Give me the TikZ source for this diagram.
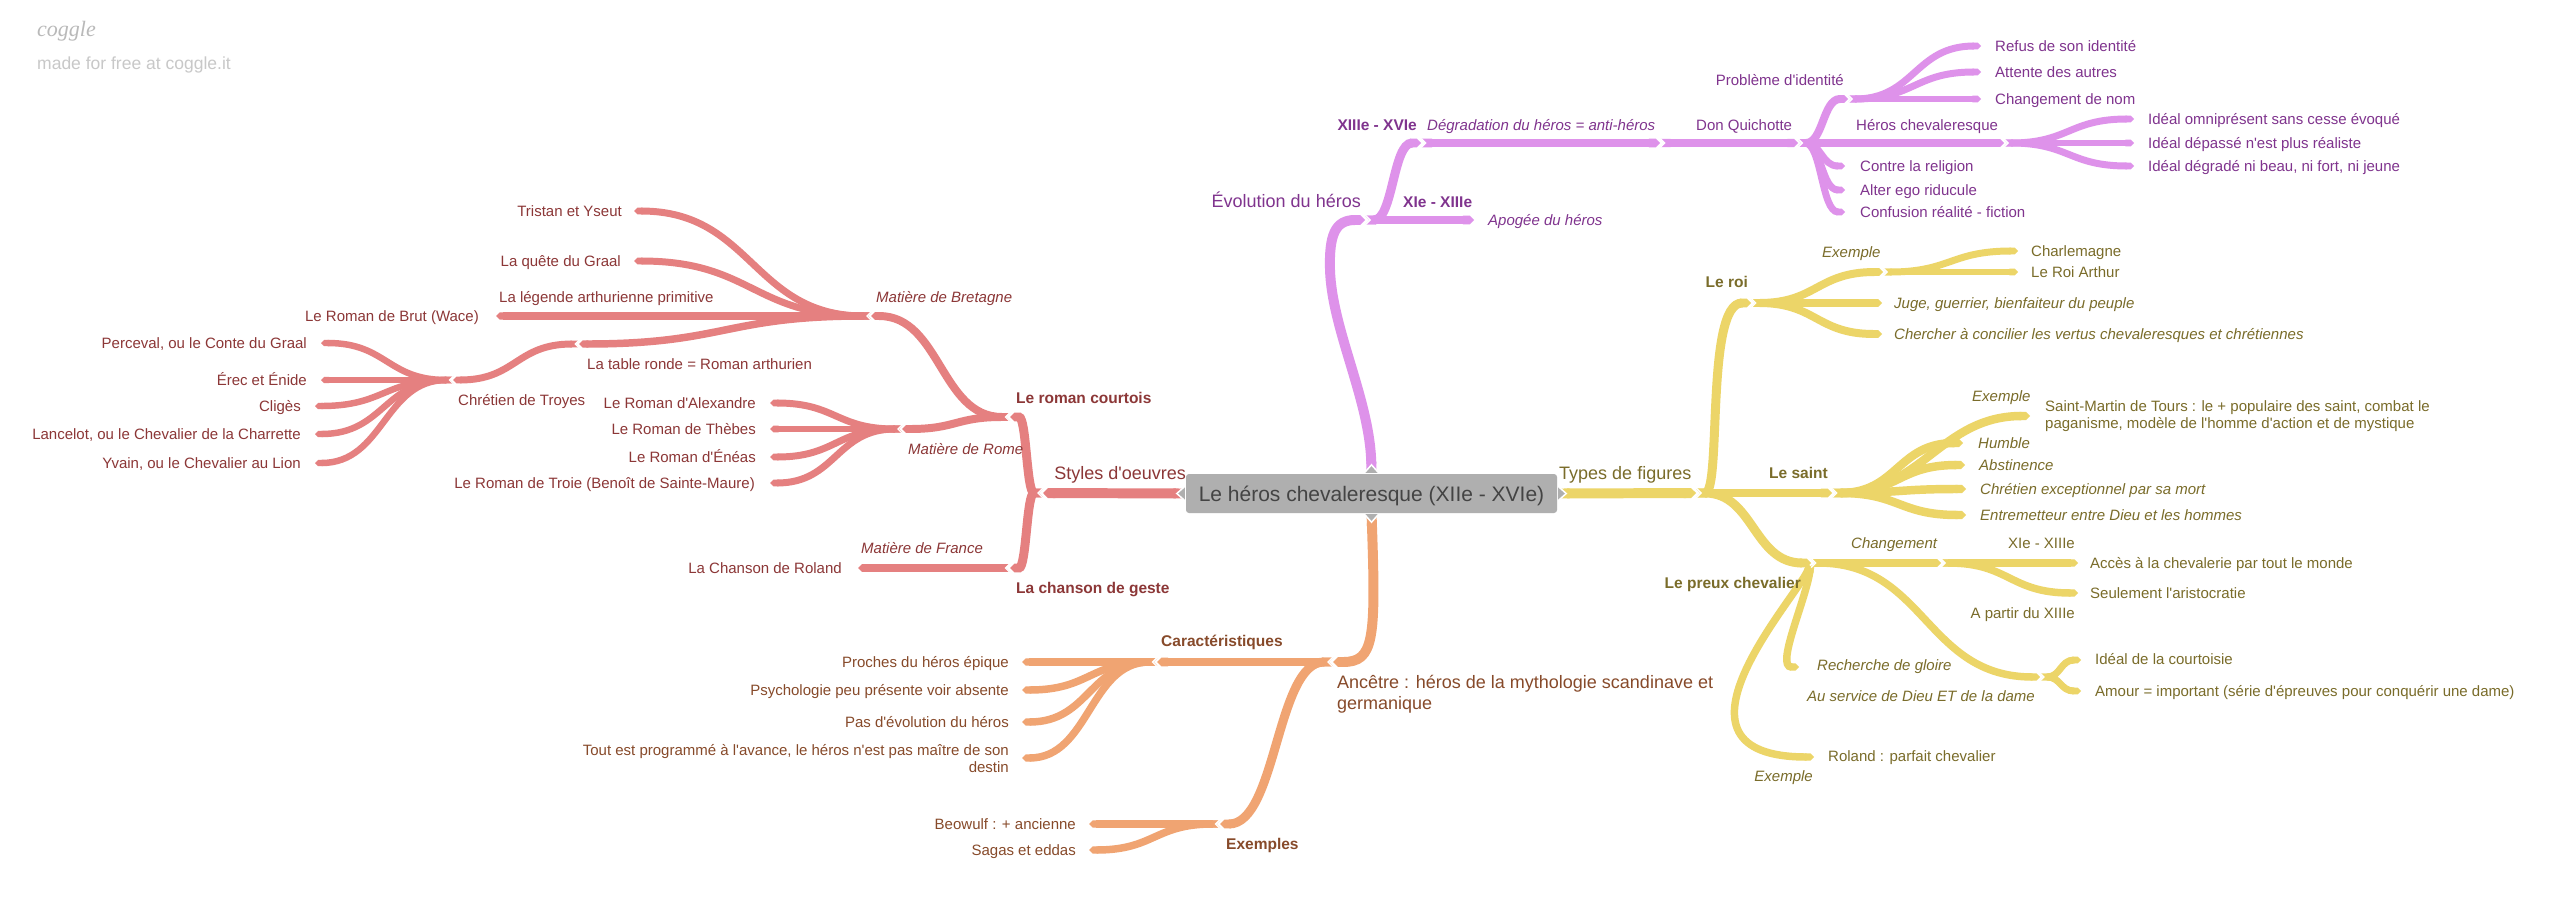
\documentclass[tikz,border=0pt]{standalone}
\usepackage{fontspec}
\setmainfont{Liberation Sans}[Ligatures=TeXOff]
\newfontfamily\logofont{Liberation Serif}
\usetikzlibrary{arrows.meta,calc,backgrounds}
\definecolor{redl}{RGB}{229,128,128}
\definecolor{redt}{RGB}{140,55,55}
\definecolor{purl}{RGB}{222,146,234}
\definecolor{purt}{RGB}{128,52,142}
\definecolor{yell}{RGB}{236,213,104}
\definecolor{yelt}{RGB}{122,108,42}
\definecolor{oral}{RGB}{240,164,114}
\definecolor{orat}{RGB}{135,74,42}
\definecolor{rootf}{RGB}{175,175,175}
\definecolor{roott}{RGB}{68,68,68}
\definecolor{logog}{RGB}{185,185,185}
\definecolor{madeg}{RGB}{200,200,200}
\tikzset{
  scurve/.style={to path={let \p1=(\tikztostart), \p2=(\tikztotarget) in
     .. controls ({\x1+#1*(\x2-\x1)},\y1) and ({\x2-#1*(\x2-\x1)},\y2) .. (\tikztotarget)}},
  scurve/.default=0.5,
  brn/.style={line width=#1, {Triangle Cap[reversed]}-{Triangle Cap}},
  lt/.style={inner sep=0pt, text height=10.8bp, text depth=0pt, font=\fontsize{15bp}{18bp}\selectfont},
  itt/.style={lt, font=\fontsize{15bp}{18bp}\selectfont\itshape},
  bft/.style={inner sep=0pt, text height=11.2bp, text depth=0pt, font=\fontsize{15.5bp}{18bp}\selectfont\bfseries},
  big/.style={inner sep=0pt, text height=13bp, text depth=0pt, font=\fontsize{18bp}{21bp}\selectfont},
  ml/.style={inner sep=0pt, font=\fontsize{15bp}{17bp}\selectfont},
  mlbig/.style={inner sep=0pt, font=\fontsize{18bp}{21bp}\selectfont},
  rootbox/.style={rectangle, fill=rootf, rounded corners=3bp, minimum width=371bp, minimum height=39bp,
     inner sep=0pt, text=roott, text height=15.1bp, text depth=0pt, font=\fontsize{21bp}{25bp}\selectfont},
  notchtri/.style={fill=rootf, draw=white, line width=1.5bp, line join=miter},
  chevline/.style={draw=white, line width=1.4bp, line join=miter}
}
% white gap between a parent's pointed end and its children's notches
\newcommand\jchev[3]{\draw[chevline] ($(#1)+(0,{-#3/2})$) -- ($(#1)+({#2*#3/2},0)$) -- ($(#1)+(0,{#3/2})$);}
\begin{document}
\begin{tikzpicture}[x=1bp,y=-1bp]
\useasboundingbox (0,0) rectangle (2560,902);

% header
\node[anchor=west, inner sep=0pt, text=logog, font=\logofont\fontsize{22bp}{24bp}\selectfont\itshape] (logo) at (37,31) {coggle};
\node[anchor=west, inner sep=0pt, text=madeg, font=\fontsize{17.5bp}{20bp}\selectfont] (made) at (37,65) {made for free at coggle.it};

% root
\node[rootbox] (root) at (1371.5,493.5) {Le héros chevaleresque (XIIe - XVIe)};

% ---------- coordinates ----------
% red
\coordinate (Js) at (1043,493);
\coordinate (Jrc) at (1010,417);
\coordinate (Jcg) at (1010,568);
\coordinate (Jmb) at (871,316);
\coordinate (Jmr) at (902,429);
\coordinate (tTri) at (634,211);
\coordinate (tQue) at (634,261);
\coordinate (tBrut) at (496,316);
\coordinate (Jtr) at (579,344);
\coordinate (Jct) at (453,380);
\coordinate (tPer) at (321,343);
\coordinate (tEre) at (321,380);
\coordinate (tCli) at (315,406);
\coordinate (tLan) at (315,434);
\coordinate (tYva) at (315,463);
\coordinate (tAle) at (770,403);
\coordinate (tThe) at (770,429);
\coordinate (tEne) at (770,457);
\coordinate (tTro) at (770,483);
\coordinate (tRol) at (858,568);
% purple
\coordinate (Jev) at (1365,220);
\coordinate (tApo) at (1474,220);
\coordinate (Jxiii) at (1421,143);
\coordinate (Jdeg) at (1660,143);
\coordinate (Jdq) at (1798,143);
\coordinate (Jpi) at (1848,99);
\coordinate (tRef) at (1981,46);
\coordinate (tAtt) at (1981,72);
\coordinate (tCha) at (1981,99);
\coordinate (Jhc) at (2004,143);
\coordinate (tOmn) at (2134,119);
\coordinate (tDep) at (2134,143);
\coordinate (tDgr) at (2134,166);
\coordinate (tCon) at (1845,166);
\coordinate (tAlt) at (1845,190);
\coordinate (tCnf) at (1845,212);
% yellow
\coordinate (Jtf) at (1696,493);
\coordinate (Jroi) at (1751,303);
\coordinate (Jex1) at (1883,272);
\coordinate (tChm) at (2018,251);
\coordinate (tArt) at (2018,272);
\coordinate (tJug) at (1882,303);
\coordinate (tChe) at (1882,334);
\coordinate (Jsai) at (1832,493);
\coordinate (tSM) at (2030,416);
\coordinate (tHum) at (1963,443);
\coordinate (tAbs) at (1965,465);
\coordinate (tChr) at (1966,489);
\coordinate (tEnt) at (1966,515);
\coordinate (Jpc) at (1811,563);
\coordinate (Jch) at (1941,563);
\coordinate (tAcc) at (2078,563);
\coordinate (tSeu) at (2078,593);
\coordinate (tRec) at (1799,667);
\coordinate (Jsd) at (2040,677);
\coordinate (tIde) at (2081,660);
\coordinate (tAmo) at (2081,691);
\coordinate (tRolE) at (1814,757);
% orange
\coordinate (Janc) at (1333,662);
\coordinate (Jcar) at (1157,662);
\coordinate (tPro) at (1022,662);
\coordinate (tPsy) at (1022,690);
\coordinate (tPas) at (1022,722);
\coordinate (tTou) at (1022,758);
\coordinate (Jexs) at (1220,824);
\coordinate (tBeo) at (1089,824);
\coordinate (tSag) at (1089,850);

% ---------- branches ----------
\begin{scope}[on background layer]
\fill[white] (0,0) rectangle (2560,902);
% red
\begin{scope}[draw=redl]
\draw[brn=10] (root.west) -- (Js);
\draw[brn=9] (Js) to[scurve] (Jrc);
\draw[brn=9] (Js) to[scurve] (Jcg);
\draw[brn=8] (Jrc) to[scurve] (Jmb);
\draw[brn=8] (Jrc) to[scurve] (Jmr);
\draw[brn=7] (Jmb) to[scurve] (tTri);
\draw[brn=7] (Jmb) to[scurve] (tQue);
\draw[brn=7.5] (Jmb) -- (tBrut);
\draw[brn=7.5] (Jmb) to[scurve] (Jtr);
\draw[brn=7] (Jtr) to[scurve] (Jct);
\draw[brn=6.5] (Jct) to[scurve] (tPer);
\draw[brn=6.5] (Jct) -- (tEre);
\draw[brn=6.5] (Jct) to[scurve] (tCli);
\draw[brn=6.5] (Jct) to[scurve] (tLan);
\draw[brn=6.5] (Jct) to[scurve] (tYva);
\draw[brn=7] (Jmr) to[scurve] (tAle);
\draw[brn=7] (Jmr) -- (tThe);
\draw[brn=7] (Jmr) to[scurve] (tEne);
\draw[brn=7] (Jmr) to[scurve] (tTro);
\draw[brn=8] (Jcg) -- (tRol);
\end{scope}
% purple
\begin{scope}[draw=purl]
\draw[brn=10] (root.north) .. controls (1370,400) and (1332,330) .. (1330,270)
   .. controls (1329,235) and (1335,220) .. (Jev);
\draw[brn=9] (Jev) -- (tApo);
\draw[brn=9] (Jev) to[scurve] (Jxiii);
\draw[brn=9] (Jxiii) -- (Jdeg);
\draw[brn=8.5] (Jdeg) -- (Jdq);
\draw[brn=8] (Jdq) to[scurve] (Jpi);
\draw[brn=7] (Jpi) to[scurve] (tRef);
\draw[brn=7] (Jpi) to[scurve] (tAtt);
\draw[brn=7] (Jpi) -- (tCha);
\draw[brn=8] (Jdq) -- (Jhc);
\draw[brn=7] (Jhc) to[scurve] (tOmn);
\draw[brn=7] (Jhc) -- (tDep);
\draw[brn=7] (Jhc) to[scurve] (tDgr);
\draw[brn=7] (Jdq) to[scurve] (tCon);
\draw[brn=7] (Jdq) to[scurve] (tAlt);
\draw[brn=7] (Jdq) to[scurve] (tCnf);
\end{scope}
% yellow
\begin{scope}[draw=yell]
\draw[brn=10] (root.east) -- (Jtf);
\draw[brn=9] (Jtf) .. controls (1722,493) and (1705,303) .. (Jroi);
\draw[brn=8] (Jroi) to[scurve] (Jex1);
\draw[brn=7] (Jex1) to[scurve] (tChm);
\draw[brn=7] (Jex1) -- (tArt);
\draw[brn=8] (Jroi) -- (tJug);
\draw[brn=8] (Jroi) to[scurve] (tChe);
\draw[brn=9] (Jtf) -- (Jsai);
\draw[brn=8.5] (Jsai) to[scurve=0.45] (tSM);
\draw[brn=8.5] (Jsai) to[scurve] (tHum);
\draw[brn=8.5] (Jsai) to[scurve] (tAbs);
\draw[brn=8.5] (Jsai) to[scurve] (tChr);
\draw[brn=8.5] (Jsai) to[scurve] (tEnt);
\draw[brn=9] (Jtf) to[scurve] (Jpc);
\draw[brn=8] (Jpc) -- (Jch);
\draw[brn=7.5] (Jch) -- (tAcc);
\draw[brn=7.5] (Jch) to[scurve] (tSeu);
\draw[brn=7.5] (Jpc) .. controls (1806,600) and (1775,667) .. (tRec);
\draw[brn=7.5] (Jpc) to[scurve] (Jsd);
\draw[brn=7] (Jsd) to[scurve] (tIde);
\draw[brn=7] (Jsd) to[scurve] (tAmo);
\draw[brn=7.5] (Jpc) .. controls (1795,600) and (1650,757) .. (tRolE);
\end{scope}
% orange
\begin{scope}[draw=oral]
\draw[brn=10] (root.south) .. controls (1376,640) and (1374,662) .. (Janc);
\draw[brn=9] (Janc) -- (Jcar);
\draw[brn=7.5] (Jcar) -- (tPro);
\draw[brn=7.5] (Jcar) to[scurve] (tPsy);
\draw[brn=7.5] (Jcar) to[scurve] (tPas);
\draw[brn=7.5] (Jcar) to[scurve] (tTou);
\draw[brn=9] (Janc) to[scurve] (Jexs);
\draw[brn=7.5] (Jexs) -- (tBeo);
\draw[brn=7.5] (Jexs) to[scurve] (tSag);
\end{scope}
% junction gaps
\jchev{Js}{-1}{10} \jchev{Jrc}{-1}{9} \jchev{Jcg}{-1}{9} \jchev{Jmb}{-1}{8}
\jchev{Jmr}{-1}{8} \jchev{Jtr}{-1}{7.5} \jchev{Jct}{-1}{7}
\jchev{Jev}{1}{10} \jchev{Jxiii}{1}{9} \jchev{Jdeg}{1}{9} \jchev{Jdq}{1}{8.5}
\jchev{Jpi}{1}{8} \jchev{Jhc}{1}{8}
\jchev{Jtf}{1}{10} \jchev{Jroi}{1}{9} \jchev{Jex1}{1}{8} \jchev{Jsai}{1}{9}
\jchev{Jpc}{1}{9} \jchev{Jch}{1}{8} \jchev{Jsd}{1}{7.5}
\jchev{Janc}{-1}{10} \jchev{Jcar}{-1}{9} \jchev{Jexs}{-1}{9}
% root notches
\filldraw[notchtri] ($(root.north)+(-8,0)$) -- ($(root.north)+(0,-9)$) -- ($(root.north)+(8,0)$) -- cycle;
\filldraw[notchtri] ($(root.south)+(-8,0)$) -- ($(root.south)+(0,9)$) -- ($(root.south)+(8,0)$) -- cycle;
\filldraw[notchtri] ($(root.west)+(0,-8)$) -- ($(root.west)+(-9,0)$) -- ($(root.west)+(0,8)$) -- cycle;
\filldraw[notchtri] ($(root.east)+(0,-8)$) -- ($(root.east)+(9,0)$) -- ($(root.east)+(0,8)$) -- cycle;
\end{scope}

% ---------- labels ----------
\begin{scope}[every node/.append style={text=redt}]
\node[big, anchor=east] (nSty) at (1186,473) {Styles d'oeuvres};
\node[bft, anchor=west] (nRC) at (1016,398) {Le roman courtois};
\node[bft, anchor=west] (nCG) at (1016,588) {La chanson de geste};
\node[itt, anchor=west] (nMB) at (876,297) {Matière de Bretagne};
\node[itt, anchor=west] (nMR) at (908,449) {Matière de Rome};
\node[lt, anchor=east] (nTri) at (622,211) {Tristan et Yseut};
\node[lt, anchor=east] (nQue) at (621,261) {La quête du Graal};
\node[lt, anchor=west] (nLeg) at (499,297) {La légende arthurienne primitive};
\node[lt, anchor=east] (nBrut) at (479,316) {Le Roman de Brut (Wace)};
\node[lt, anchor=west] (nTR) at (587,364) {La table ronde = Roman arthurien};
\node[lt, anchor=west] (nCT) at (458,400) {Chrétien de Troyes};
\node[lt, anchor=east] (nPer) at (307,343) {Perceval, ou le Conte du Graal};
\node[lt, anchor=east] (nEre) at (307,380) {Érec et Énide};
\node[lt, anchor=east] (nCli) at (301,406) {Cligès};
\node[lt, anchor=east] (nLan) at (301,434) {Lancelot, ou le Chevalier de la Charrette};
\node[lt, anchor=east] (nYva) at (301,463) {Yvain, ou le Chevalier au Lion};
\node[lt, anchor=east] (nAle) at (756,403) {Le Roman d'Alexandre};
\node[lt, anchor=east] (nThe) at (756,429) {Le Roman de Thèbes};
\node[lt, anchor=east] (nEne) at (756,457) {Le Roman d'Énéas};
\node[lt, anchor=east] (nTro) at (755,483) {Le Roman de Troie (Benoît de Sainte-Maure)};
\node[itt, anchor=west] (nMF) at (861,548) {Matière de France};
\node[lt, anchor=east] (nRol) at (842,568) {La Chanson de Roland};
\end{scope}

\begin{scope}[every node/.append style={text=purt}]
\node[big, anchor=east] (nEv) at (1361,201) {Évolution du héros};
\node[bft, anchor=west] (nX1) at (1403,202) {XIe - XIIIe};
\node[itt, anchor=west] (nApo) at (1488,220) {Apogée du héros};
\node[bft, anchor=east] (nX2) at (1417,125) {XIIIe - XVIe};
\node[itt, anchor=west] (nDeg) at (1427,125) {Dégradation du héros = anti-héros};
\node[lt, anchor=west] (nDQ) at (1696,125) {Don Quichotte};
\node[lt, anchor=east] (nPI) at (1844,80) {Problème d'identité};
\node[lt, anchor=west] (nRef) at (1995,46) {Refus de son identité};
\node[lt, anchor=west] (nAtt) at (1995,72) {Attente des autres};
\node[lt, anchor=west] (nCha) at (1995,99) {Changement de nom};
\node[lt, anchor=west] (nHC) at (1856,125) {Héros chevaleresque};
\node[lt, anchor=west] (nOmn) at (2148,119) {Idéal omniprésent sans cesse évoqué};
\node[lt, anchor=west] (nDep) at (2148,143) {Idéal dépassé n'est plus réaliste};
\node[lt, anchor=west] (nDgr) at (2148,166) {Idéal dégradé ni beau, ni fort, ni jeune};
\node[lt, anchor=west] (nCon) at (1860,166) {Contre la religion};
\node[lt, anchor=west] (nAlt) at (1860,190) {Alter ego riducule};
\node[lt, anchor=west] (nCnf) at (1860,212) {Confusion réalité - fiction};
\end{scope}

\begin{scope}[every node/.append style={text=yelt}]
\node[big, anchor=west] (nTF) at (1559,473) {Types de figures};
\node[bft, anchor=east] (nRoi) at (1748,282) {Le roi};
\node[itt, anchor=west] (nEx1) at (1822,252) {Exemple};
\node[lt, anchor=west] (nChm) at (2031,251) {Charlemagne};
\node[lt, anchor=west] (nArt) at (2031,272) {Le Roi Arthur};
\node[itt, anchor=west] (nJug) at (1894,303) {Juge, guerrier, bienfaiteur du peuple};
\node[itt, anchor=west] (nChe) at (1894,334) {Chercher à concilier les vertus chevaleresques et chrétiennes};
\node[bft, anchor=west] (nSai) at (1769,473) {Le saint};
\node[itt, anchor=west] (nEx2) at (1972,396) {Exemple};
\node[ml, align=left, anchor=west] (nSM) at (2045,416) {Saint-Martin de Tours : le + populaire des saint, combat le\\paganisme, modèle de l'homme d'action et de mystique};
\node[itt, anchor=west] (nHum) at (1978,443) {Humble};
\node[itt, anchor=west] (nAbs) at (1979,465) {Abstinence};
\node[itt, anchor=west] (nChr) at (1980,489) {Chrétien exceptionnel par sa mort};
\node[itt, anchor=west] (nEnt) at (1980,515) {Entremetteur entre Dieu et les hommes};
\node[bft, anchor=east] (nPC) at (1801,583) {Le preux chevalier};
\node[itt, anchor=west] (nChg) at (1851,543) {Changement};
\node[lt, anchor=east] (nX3) at (2075,543) {XIe - XIIIe};
\node[lt, anchor=west] (nAcc) at (2090,563) {Accès à la chevalerie par tout le monde};
\node[lt, anchor=east] (nAP) at (2075,613) {A partir du XIIIe};
\node[lt, anchor=west] (nSeu) at (2090,593) {Seulement l'aristocratie};
\node[itt, anchor=west] (nRec) at (1817,665) {Recherche de gloire};
\node[itt, anchor=east] (nAS) at (2035,696) {Au service de Dieu ET de la dame};
\node[lt, anchor=west] (nIde) at (2095,659) {Idéal de la courtoisie};
\node[lt, anchor=west] (nAmo) at (2095,691) {Amour = important (série d'épreuves pour conquérir une dame)};
\node[itt, anchor=east] (nEx3) at (1813,776) {Exemple};
\node[lt, anchor=west] (nRolP) at (1828,756) {Roland : parfait chevalier};
\end{scope}

\begin{scope}[every node/.append style={text=orat}]
\node[mlbig, align=left, anchor=west] (nAnc) at (1337,694) {Ancêtre : héros de la mythologie scandinave et\\germanique};
\node[bft, anchor=west] (nCar) at (1161,641) {Caractéristiques};
\node[lt, anchor=east] (nPro) at (1009,662) {Proches du héros épique};
\node[lt, anchor=east] (nPsy) at (1009,690) {Psychologie peu présente voir absente};
\node[lt, anchor=east] (nPas) at (1009,722) {Pas d'évolution du héros};
\node[ml, align=right, anchor=east] (nTou) at (1009,759) {Tout est programmé à l'avance, le héros n'est pas maître de son\\destin};
\node[bft, anchor=west] (nExs) at (1226,844) {Exemples};
\node[lt, anchor=east] (nBeo) at (1076,824) {Beowulf : + ancienne};
\node[lt, anchor=east] (nSag) at (1076,850) {Sagas et eddas};
\end{scope}
\end{tikzpicture}
\end{document}
